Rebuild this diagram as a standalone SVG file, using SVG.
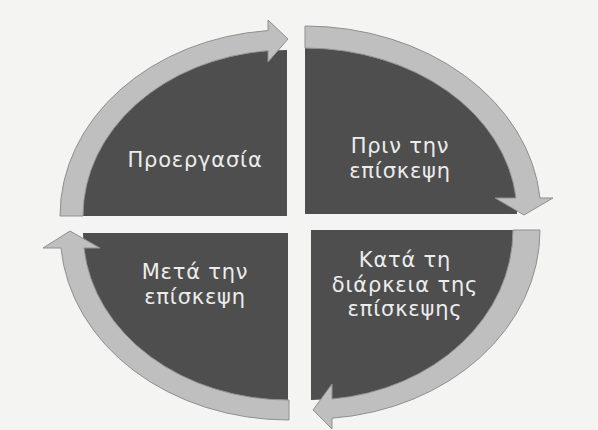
<svg xmlns="http://www.w3.org/2000/svg" width="598" height="430" viewBox="0 0 598 430">
<style>
.bg{fill:#f4f4f2}
.q{fill:#4e4e4e}
.ring{fill:#bfbfbf;stroke:#8f8f8f;stroke-width:1}
.t{font-family:"DejaVu Sans","Open Sans",sans-serif;font-size:21px;fill:#ececec;text-anchor:middle;letter-spacing:0.8px}
</style>
<rect class="bg" x="0" y="0" width="598" height="430"/>
<g id="quadrant-proergasia">
<path class="q" d="M287,216 L83,216 A204 166 0 0 1 287,50 Z"/>
<text class="t" x="195" y="167">Προεργασία</text>
</g>
<g id="quadrant-prin">
<path class="q" d="M305,214 L305,48 A212 166 0 0 1 517,214 Z"/>
<text class="t" x="400" y="153">Πριν την</text>
<text class="t" x="400" y="177.5">επίσκεψη</text>
</g>
<g id="quadrant-kata">
<path class="q" d="M311,230 L513,230 A202 170 0 0 1 311,400 Z"/>
<text class="t" x="405" y="267">Κατά τη</text>
<text class="t" x="405" y="291.5">διάρκεια της</text>
<text class="t" x="405" y="316">επίσκεψης</text>
</g>
<g id="quadrant-meta">
<path class="q" d="M288,233 L288,400 A205 167 0 0 1 83,233 Z"/>
<text class="t" x="195" y="279">Μετά την</text>
<text class="t" x="195" y="303.5">επίσκεψη</text>
</g>
<g id="connectors">
<path class="ring" d="M60,216 A227 186 0 0 1 268,30.6 L268,20 L288,39 L268,62 L268,50.7 A204 166 0 0 0 83,216 Z"/>
<path class="ring" d="M305,26 A236 188 0 0 1 540,198 L553,198 L524,215 L495,198 L516,198 A212 166 0 0 0 305,48 Z"/>
<path class="ring" d="M540,230 A229 189 0 0 1 332,418.2 L332,429 L313,410 L332,384 L332,399 A202 170 0 0 0 513,230 Z"/>
<path class="ring" d="M289,420 A228 187 0 0 1 61,248 L43,248 L70,231 L100,248 L84,248 A205 167 0 0 0 289,400 Z"/>
</g>
</svg>
